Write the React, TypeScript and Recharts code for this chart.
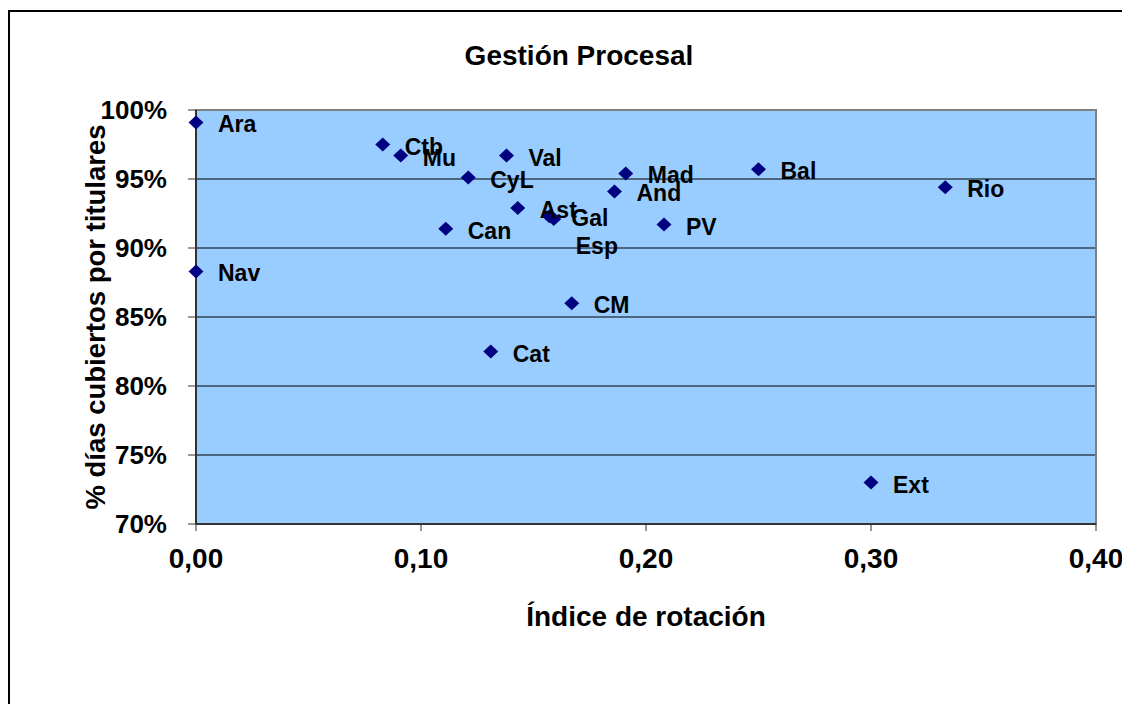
import React from 'react';
import { ScatterChart, Scatter, XAxis, YAxis, CartesianGrid, ReferenceArea } from 'recharts';

const regions = ['Ara', 'Ctb', 'Mu', 'Val', 'CyL', 'Mad', 'And', 'Bal', 'Rio', 'Ast', 'Gal', 'Esp', 'Can', 'PV', 'Nav', 'CM', 'Cat', 'Ext'];
const rotation = [0, 0.083, 0.091, 0.138, 0.121, 0.191, 0.186, 0.25, 0.333, 0.143, 0.157, 0.159, 0.111, 0.208, 0, 0.167, 0.131, 0.3];
const coverage = [0.991, 0.975, 0.967, 0.967, 0.951, 0.954, 0.941, 0.957, 0.944, 0.929, 0.923, 0.921, 0.914, 0.917, 0.883, 0.86, 0.825, 0.73];
const xTicks = [0, 0.1, 0.2, 0.3, 0.4];
const yTicks = [0.7, 0.75, 0.8, 0.85, 0.9, 0.95, 1];
const gridValues = [0.75, 0.8, 0.85, 0.9, 0.95];

const data = regions.map((name, i) => ({ name, x: rotation[i], y: coverage[i] }));

const FONT = '"Liberation Sans", Arial, sans-serif';
const labelDy: Record<string, number> = { Esp: 27 };

const Diamond = (props: any) => {
  const { cx, cy } = props;
  const rx = 7.5;
  const ry = 7;
  return (
    <polygon
      points={`${cx},${cy - ry} ${cx + rx},${cy} ${cx},${cy + ry} ${cx - rx},${cy}`}
      fill="#000080"
    />
  );
};

const PointLabel = (props: any) => {
  const { cx, cy, payload } = props;
  const dy = labelDy[payload.name] ?? 2;
  return (
    <text
      x={cx + 22}
      y={cy + dy}
      dominantBaseline="central"
      fontFamily={FONT}
      fontWeight="bold"
      fontSize={23}
      fill="#000"
    >
      {payload.name}
    </text>
  );
};

const YTitle = (props: any) => {
  const vb = props.viewBox || { x: 108, y: 102, width: 80, height: 414 };
  const cx = vb.x - 21;
  const cy = vb.y + vb.height / 2;
  return (
    <text
      x={cx}
      y={cy}
      transform={`rotate(-90, ${cx}, ${cy})`}
      textAnchor="middle"
      dominantBaseline="central"
      fontFamily={FONT}
      fontWeight="bold"
      fontSize={27.5}
      fill="#000"
    >
      % días cubiertos por titulares
    </text>
  );
};

const fmtX = (v: number) => v.toFixed(2).replace('.', ',');
const fmtY = (v: number) => `${Math.round(v * 100)}%`;

export default function App() {
  return (
    <div style={{ position: 'relative', width: 1122, height: 696, fontFamily: FONT }}>
      <div
        style={{
          position: 'absolute',
          left: 0,
          top: 2,
          width: 1120,
          height: 692,
          borderTop: '2px solid #000',
          borderLeft: '2px solid #000',
        }}
      />
      <div
        style={{
          position: 'absolute',
          left: 371,
          top: 32,
          width: 400,
          textAlign: 'center',
          fontWeight: 'bold',
          fontSize: 28,
          lineHeight: '32px',
          color: '#000',
        }}
      >
        Gestión Procesal
      </div>
      <ScatterChart width={1122} height={696} margin={{ top: 102, right: 34, bottom: 70, left: 108 }}>
        <CartesianGrid
          fill="#99CCFF"
          vertical={false}
          horizontalValues={gridValues}
          stroke="#000"
          strokeWidth={1.2}
        />
        <ReferenceArea x1={0} x2={0.4} y1={0.7} y2={1} fill="none" stroke="#808080" strokeWidth={2} ifOverflow="visible" />
        <XAxis
          type="number"
          dataKey="x"
          domain={[0, 0.4]}
          ticks={xTicks}
          tickFormatter={fmtX}
          height={110}
          tickSize={7}
          tickMargin={17}
          axisLine={{ stroke: '#333', strokeWidth: 2 }}
          tickLine={{ stroke: '#333', strokeWidth: 1 }}
          tick={{ fill: '#000', fontSize: 28, fontWeight: 'bold', fontFamily: FONT }}
          label={{
            value: 'Índice de rotación',
            position: 'insideBottom',
            offset: 8,
            style: { fill: '#000', fontSize: 28, fontWeight: 'bold', fontFamily: FONT },
          }}
        />
        <YAxis
          type="number"
          dataKey="y"
          domain={[0.7, 1]}
          ticks={yTicks}
          tickFormatter={fmtY}
          width={80}
          tickSize={8}
          tickMargin={21}
          axisLine={{ stroke: '#333', strokeWidth: 2 }}
          tickLine={{ stroke: '#333', strokeWidth: 1 }}
          tick={{ fill: '#000', fontSize: 26, fontWeight: 'bold', fontFamily: FONT }}
          label={<YTitle />}
        />
        <Scatter data={data} shape={<Diamond />} isAnimationActive={false} />
        <Scatter data={data} shape={<PointLabel />} isAnimationActive={false} />
      </ScatterChart>
    </div>
  );
}
